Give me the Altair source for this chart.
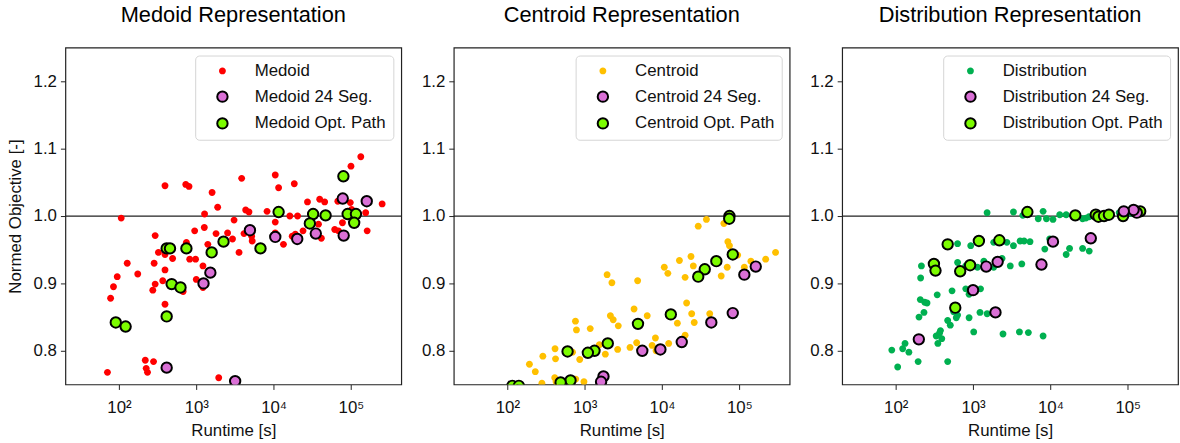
import altair as alt
import pandas as pd

# ---------------- data ----------------
# Medoid panel
med_x = [134000, 100000, 3860, 10500, 11600, 18500, 394, 731, 805, 1600, 1890, 1280, 107,
         4350, 4800, 8220, 27400, 39400, 45700, 67600, 98000, 102000, 253000, 155000, 16200,
         20400, 10500, 3080, 38000, 61700, 69000, 77600, 162000, 41400, 953, 1270, 1800, 2540,
         2940, 4140, 5280, 5200, 10500, 13400, 19100, 17400, 24000, 294, 745, 1410, 3570, 324,
         394, 494, 822, 979, 128, 285, 175, 394, 1220, 95, 85, 78, 368, 294, 274, 394, 1000,
         676, 1220, 219, 280, 225, 234, 71, 1950]
med_y = [1.088, 1.074, 1.056, 1.061, 1.042, 1.048, 1.045, 1.047, 1.044, 1.035, 1.013, 1.003, 0.997,
         1.009, 1.006, 1.007, 1.021, 1.025, 1.021, 1.022, 1.020, 1.010, 1.018, 1.005, 1.000,
         1.000, 0.991, 0.994, 0.988, 0.980, 0.978, 0.990, 0.978, 0.967, 0.978, 0.983, 0.974, 0.975,
         0.966, 0.974, 0.963, 0.970, 0.975, 0.958, 0.973, 0.970, 0.978, 0.971, 0.961, 0.958, 0.946, 0.946,
         0.943, 0.937, 0.936, 0.936, 0.930, 0.930, 0.914, 0.920, 0.926, 0.910, 0.895, 0.878, 0.904, 0.899,
         0.890, 0.869, 0.906, 0.888, 0.894, 0.786, 0.784, 0.774, 0.768, 0.768, 0.760]
med_seg_x = [78300, 160000, 4940, 10500, 20200, 35100, 80500, 1520, 1240, 414, 3180]
med_seg_y = [1.026, 1.022, 0.979, 0.969, 0.966, 0.974, 0.971, 0.916, 0.900, 0.775, 0.755]
med_opt_x = [79800, 11600, 32400, 47000, 90600, 116000, 110000, 29400, 2250, 1580, 745, 6760,
             414, 457, 480, 625, 414, 91, 122]
med_opt_y = [1.059, 1.006, 1.003, 1.001, 1.003, 1.003, 0.990, 0.989, 0.962, 0.946, 0.952, 0.952,
             0.952, 0.952, 0.899, 0.894, 0.851, 0.842, 0.836]

# Centroid panel
cen_x = [29400, 37500, 63100, 71000, 74500, 95300, 294000, 219000, 141000, 116000, 69700, 58300,
         23700, 25400, 16800, 19900, 10700, 11900, 1950, 2250, 4840, 20800, 4350, 6440, 24200,
         41400, 15800, 26100, 2150, 2340, 2720, 760, 783, 1180, 8220, 12200, 19900, 4700, 3860,
         7450, 8380, 1550, 2670, 1850, 1410, 1160, 863, 697, 414, 420, 288, 193, 230, 410, 427,
         979, 280, 767]
cen_y = [0.985, 0.995, 0.989, 0.962, 0.956, 0.942, 0.946, 0.936, 0.933, 0.924, 0.924, 0.911,
         0.940, 0.926, 0.934, 0.909, 0.924, 0.915, 0.913, 0.901, 0.904, 0.871, 0.862, 0.852, 0.855,
         0.855, 0.841, 0.842, 0.852, 0.846, 0.837, 0.844, 0.831, 0.833, 0.819, 0.811, 0.823, 0.812, 0.805,
         0.808, 0.800, 0.809, 0.802, 0.795, 0.800, 0.796, 0.787, 0.798, 0.803, 0.788, 0.792, 0.780, 0.769,
         0.760, 0.754, 0.754, 0.752, 0.758]
cen_seg_x = [163000, 116000, 82200, 43400, 18000, 9530, 5560, 1750, 1630]
cen_seg_y = [0.925, 0.913, 0.856, 0.842, 0.813, 0.802, 0.800, 0.762, 0.754]
cen_opt_x = [74500, 74000, 82200, 50400, 35700, 29400, 13000, 4890, 1990, 1340, 1100, 601,
             656, 489, 116, 141]
cen_opt_y = [1.000, 0.996, 0.943, 0.933, 0.921, 0.910, 0.854, 0.840, 0.811, 0.800, 0.797, 0.799,
             0.756, 0.753, 0.748, 0.748]

# Distribution panel
dis_x = [1520, 3330, 4400, 8050, 6970, 8890, 10800, 13200, 16000, 26100, 28800, 31600, 47000,
         57100, 77600, 93300, 112000, 4060, 4570, 5450, 3330, 2740, 9790, 8470, 17700, 16000,
         26100, 31800, 933, 631, 1850, 3030, 4270, 1850, 2370, 1380, 631, 805, 1140, 215, 210,
         208, 237, 254, 232, 200, 344, 535, 805, 889, 1250, 561, 631, 470, 508, 607, 889, 1230,
         1520, 368, 394, 351, 334, 379, 1020, 2440, 3980, 5190, 8050, 132, 123, 148, 89, 191,
         195, 106, 470]
dis_y = [1.005, 1.006, 1.001, 1.007, 0.996, 0.996, 0.995, 1.002, 1.002, 0.996, 0.997, 0.999, 1.001,
         1.005, 1.005, 1.006, 1.004, 0.963, 0.963, 0.962, 0.956, 0.961, 0.966, 0.951, 0.952, 0.943,
         0.952, 0.948, 0.956, 0.959, 0.961, 0.926, 0.929, 0.924, 0.937, 0.933, 0.931, 0.926, 0.924, 0.926, 0.908,
         0.876, 0.872, 0.871, 0.857, 0.850, 0.883, 0.889, 0.892, 0.884, 0.892, 0.858, 0.853, 0.845, 0.838,
         0.849, 0.849, 0.857, 0.855, 0.826, 0.818, 0.811, 0.822, 0.830, 0.828, 0.825, 0.828, 0.827, 0.822,
         0.811, 0.803, 0.798, 0.801, 0.816, 0.784, 0.776, 0.784]
dis_seg_x = [131000, 119000, 88900, 33300, 10800, 7670, 2080, 1480, 1000, 1950, 199]
dis_seg_y = [1.005, 1.009, 1.007, 0.967, 0.962, 0.928, 0.932, 0.925, 0.890, 0.857, 0.817]
dis_opt_x = [5040, 21000, 38600, 41800, 49400, 57100, 87100, 125000, 145000, 2190, 1190, 470,
             312, 327, 682, 916, 589]
dis_opt_y = [1.006, 1.001, 1.002, 0.999, 1.000, 1.002, 1.000, 1.007, 1.007, 0.964, 0.963, 0.958,
             0.929, 0.919, 0.918, 0.927, 0.864]

panels = [
    ("Medoid Representation", "Medoid", "#ff0000", med_x, med_y, med_seg_x, med_seg_y, med_opt_x, med_opt_y),
    ("Centroid Representation", "Centroid", "#ffc000", cen_x, cen_y, cen_seg_x, cen_seg_y, cen_opt_x, cen_opt_y),
    ("Distribution Representation", "Distribution", "#00b050", dis_x, dis_y, dis_seg_x, dis_seg_y, dis_opt_x, dis_opt_y),
]

SEG_COLOR = "#da70d6"
OPT_COLOR = "#7cfc00"
FONT = "Liberation Sans"
SMALL_DOT = "M0.66,0A0.66,0.66,0,1,1,-0.66,0A0.66,0.66,0,1,1,0.66,0Z"

sup = "{'100': '10²', '1000': '10³', '10000': '10⁴', '100000': '10⁵'}"

W = 339
H = 340

charts = []
for i, (title, name, col, bx, by, sx, sy, ox, oy) in enumerate(panels):
    names = [name, name + " 24 Seg.", name + " Opt. Path"]
    df = pd.concat([
        pd.DataFrame({"runtime": bx, "value": by, "series": names[0]}),
        pd.DataFrame({"runtime": ox, "value": oy, "series": names[2]}),
        pd.DataFrame({"runtime": sx, "value": sy, "series": names[1]}),
    ], ignore_index=True)

    leg = alt.Legend(title=None, orient="top-right")
    xenc = alt.X("runtime:Q",
                 scale=alt.Scale(type="log", domain=[20.3, 447000], nice=False),
                 axis=alt.Axis(values=[100, 1000, 10000, 100000],
                               labelExpr=sup + "[toString(datum.value)]",
                               title="Runtime [s]", grid=False))
    yenc = alt.Y("value:Q",
                 scale=alt.Scale(domain=[0.75, 1.25], nice=False, zero=False),
                 axis=alt.Axis(values=[0.8, 0.9, 1.0, 1.1, 1.2], format=".1f",
                               title="Normed Objective [-]" if i == 0 else None, grid=False))

    rule = alt.Chart(pd.DataFrame({"v": [1.0]})).mark_rule(color="#222222", strokeWidth=1.2).encode(
        y=alt.Y("v:Q", scale=alt.Scale(domain=[0.75, 1.25], nice=False, zero=False))
    )
    pts = alt.Chart(df).mark_point(filled=True, opacity=1, strokeWidth=2, size=110, clip=True).encode(
        x=xenc,
        y=yenc,
        fill=alt.Fill("series:N", scale=alt.Scale(domain=names, range=[col, SEG_COLOR, OPT_COLOR]), legend=leg),
        stroke=alt.Stroke("series:N", scale=alt.Scale(domain=names, range=["transparent", "black", "black"]), legend=leg),
        shape=alt.Shape("series:N", scale=alt.Scale(domain=names, range=[SMALL_DOT, "circle", "circle"]), legend=leg),
    )
    ch = alt.layer(rule, pts).properties(
        width=W, height=H,
        title=alt.TitleParams(title, fontSize=22, font=FONT, fontWeight="normal", color="black", offset=21),
    )
    charts.append(ch)

chart = alt.hconcat(*charts, spacing=17).resolve_scale(
    fill="independent", stroke="independent", shape="independent", x="independent", y="independent"
).resolve_legend(
    fill="independent", stroke="independent", shape="independent"
).properties(
    padding={"left": 5, "top": 1, "right": 0, "bottom": 0},
    background="white",
).configure_view(
    stroke="#222222", strokeWidth=1.2
).configure_axis(
    domain=False, tickColor="#222222", tickSize=5, tickWidth=1,
    labelFont=FONT, labelFontSize=17, labelColor="#111111", labelPadding=4,
    titleFont=FONT, titleFontSize=17, titleFontWeight="normal", titleColor="#111111",
).configure_axisX(labelPadding=10, titlePadding=8).configure_axisY(titlePadding=9).configure_legend(
    fillColor="white", strokeColor="#d4d4d4", cornerRadius=4, padding=7, offset=8,
    labelFont=FONT, labelFontSize=17, labelColor="#111111", labelLimit=400,
    symbolSize=110, symbolStrokeWidth=2, rowPadding=8, labelOffset=24, symbolOffset=12,
)

chart.save("out.html", embed_options={"renderer": "svg", "actions": False})
